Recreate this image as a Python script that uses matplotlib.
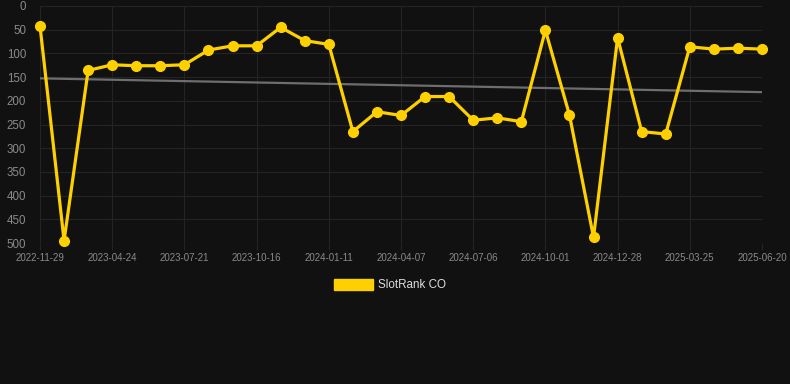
import numpy as np
import matplotlib
matplotlib.use("Agg")
import matplotlib.pyplot as plt
from matplotlib.patches import Patch

# Monthly rank values (lower = better)
rank = [42, 495, 136, 124, 126, 126, 124, 93, 84, 84,
        45, 73, 81, 265, 223, 231, 191, 191, 241, 236,
        244, 51, 230, 488, 67, 265, 270, 86, 91, 89, 91]

# Every third point carries a date label
tick_idx = [0, 3, 6, 9, 12, 15, 18, 21, 24, 27, 30]
tick_labels = ["2022-11-29", "2023-04-24", "2023-07-21", "2023-10-16",
               "2024-01-11", "2024-04-07", "2024-07-06", "2024-10-01",
               "2024-12-28", "2025-03-25", "2025-06-20"]
y_ticks = [0, 50, 100, 150, 200, 250, 300, 350, 400, 450, 500]

BG = "#111111"
GOLD = "#FFD000"

plt.rcParams["font.family"] = ["Liberation Sans", "DejaVu Sans"]

fig = plt.figure(figsize=(7.9, 3.84), dpi=100, facecolor=BG)
ax = fig.add_axes([40 / 790, 1 - 243 / 384, 722 / 790, 237 / 384])
ax.set_facecolor(BG)

x = np.arange(len(rank))

# linear trend
coef = np.polyfit(x, rank, 1)
ax.plot(x, np.polyval(coef, x), color="#6e6e6e", linewidth=1.6, zorder=2)

ax.plot(x, rank, color=GOLD, linewidth=2.3, marker="o", markersize=7,
        markerfacecolor=GOLD, markeredgecolor=GOLD, zorder=3, clip_on=False)

ax.set_xlim(0, len(rank) - 1)
ax.set_ylim(500, 0)
ax.set_xticks(tick_idx)
ax.set_xticklabels(tick_labels)
ax.set_yticks(y_ticks)

ax.grid(True, color="#242424", linewidth=0.8)
ax.set_axisbelow(True)
for s in ax.spines.values():
    s.set_visible(False)
ax.tick_params(axis="x", colors="#242424", labelcolor="#8a8a8a",
               labelsize=7.0, length=5, width=0.8, pad=2)
ax.tick_params(axis="y", length=0, labelcolor="#8a8a8a", labelsize=8.3, pad=10)

# legend with a filled rectangle
fig.legend(handles=[Patch(facecolor=GOLD, edgecolor=GOLD, label="SlotRank CO")],
           loc="center", bbox_to_anchor=(390 / 790, 1 - 285 / 384),
           frameon=False, fontsize=8.4, handlelength=3.4, handleheight=1.1,
           handletextpad=0.45, labelcolor="#dddddd")

fig.savefig("out.png", dpi=100, facecolor=BG)
